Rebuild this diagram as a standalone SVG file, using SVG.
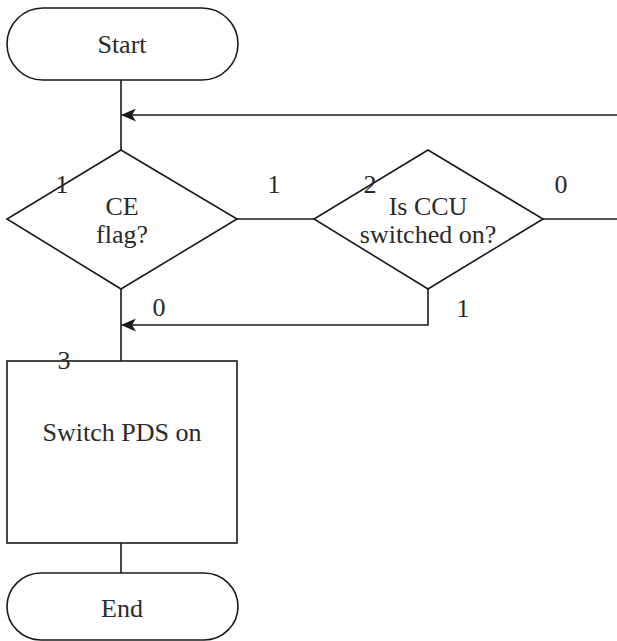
<svg xmlns="http://www.w3.org/2000/svg" width="617" height="641" viewBox="0 0 617 641">
  <style>
    .shape { fill: #ffffff; stroke: #1a1a1a; stroke-width: 1.6; }
    .edge { fill: none; stroke: #1a1a1a; stroke-width: 1.6; }
    text { font-family: 'Liberation Serif', 'DejaVu Serif', serif; font-size: 26px; fill: #2a2a2a; text-anchor: middle; }
  </style>
  <defs>
    <marker id="arrow" viewBox="0 0 15 13" refX="14" refY="6.5" markerWidth="15" markerHeight="13" markerUnits="userSpaceOnUse" orient="auto">
      <path d="M0,0 L15,6.5 L0,13 L4,6.5 Z" fill="#1a1a1a"/>
    </marker>
  </defs>
  <rect width="617" height="641" fill="#ffffff"/>

  <g id="connectors">
    <path class="edge" d="M121,80 V150"/>
    <path class="edge" d="M617,115 H122" marker-end="url(#arrow)"/>
    <path class="edge" d="M237,219 H314"/>
    <path class="edge" d="M543,219 H617"/>
    <path class="edge" d="M428,289 V325 H122" marker-end="url(#arrow)"/>
    <path class="edge" d="M121,289 V361"/>
    <path class="edge" d="M121,543 V573"/>
    <text x="274" y="193">1</text>
    <text x="561" y="193">0</text>
    <text x="463" y="317">1</text>
    <text x="159" y="316">0</text>
  </g>

  <g id="start">
    <rect class="shape" x="7" y="8" width="231" height="72" rx="36" ry="36"/>
    <text x="122" y="53">Start</text>
  </g>

  <g id="ce-flag">
    <path class="shape" d="M121,150 L237,219 L121,289 L7,219 Z"/>
    <text x="62" y="193">1</text>
    <text x="122" y="215">CE</text>
    <text x="122" y="243">flag?</text>
  </g>

  <g id="ccu-check">
    <path class="shape" d="M428,150 L543,219 L428,289 L314,219 Z"/>
    <text x="370" y="193">2</text>
    <text x="428" y="215">Is CCU</text>
    <text x="428" y="243">switched on?</text>
  </g>

  <g id="switch-pds">
    <rect class="shape" x="7" y="361" width="230" height="182"/>
    <text x="64" y="369">3</text>
    <text x="122" y="441">Switch PDS on</text>
  </g>

  <g id="end">
    <rect class="shape" x="7" y="573" width="231" height="67" rx="34" ry="34"/>
    <text x="122" y="617">End</text>
  </g>
</svg>
